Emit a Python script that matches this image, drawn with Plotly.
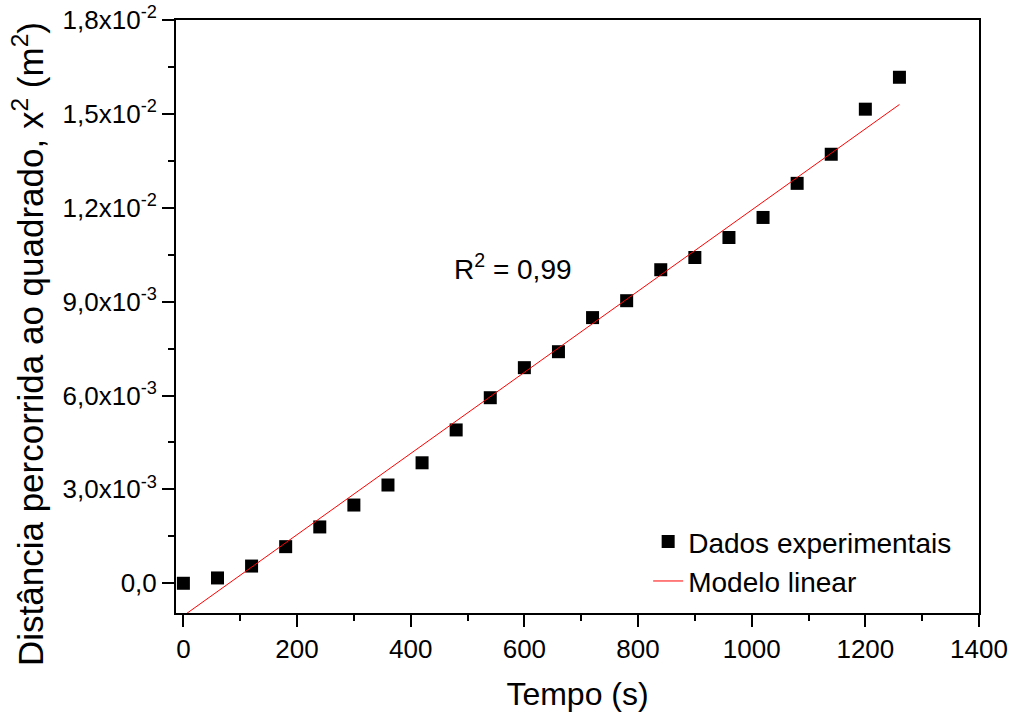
import plotly.graph_objects as go

tempo_s = [0, 60, 120, 180, 240, 300, 360, 420, 480, 540, 600, 660,
           720, 780, 840, 900, 960, 1020, 1080, 1140, 1200, 1260]
dist2_m2 = [0.0e-3, 0.17e-3, 0.55e-3, 1.17e-3, 1.80e-3, 2.50e-3, 3.14e-3, 3.85e-3,
            4.90e-3, 5.93e-3, 6.89e-3, 7.40e-3, 8.49e-3, 9.03e-3, 10.02e-3, 10.41e-3,
            11.05e-3, 11.69e-3, 12.78e-3, 13.71e-3, 15.15e-3, 16.17e-3]

fit_x = [0, 1260]
fit_y = [-1.04e-3, 15.30e-3]

y_tickvals = [0.0, 3e-3, 6e-3, 9e-3, 12e-3, 15e-3, 18e-3]
y_ticktext = ["0,0", "3,0x10<sup>-3</sup>", "6,0x10<sup>-3</sup>", "9,0x10<sup>-3</sup>",
              "1,2x10<sup>-2</sup>", "1,5x10<sup>-2</sup>", "1,8x10<sup>-2</sup>"]
x_tickvals = [0, 200, 400, 600, 800, 1000, 1200, 1400]

FONT = "Liberation Sans, Arial, sans-serif"

fig = go.Figure()
fig.add_trace(go.Scatter(
    x=tempo_s, y=dist2_m2, mode="markers", name="Dados experimentais",
    marker=dict(symbol="square", size=13, color="black", line=dict(width=0)),
    cliponaxis=False,
))
fig.add_trace(go.Scatter(
    x=fit_x, y=fit_y, mode="lines", name="Modelo linear",
    line=dict(color="red", width=1),
))

fig.add_annotation(x=580, y=10.12e-3, text="R<sup>2</sup> = 0,99", showarrow=False,
                   font=dict(family=FONT, size=28, color="black"))

# y-axis title placed as a rotated annotation
fig.add_annotation(x=-0.184, y=0.454, xref="paper", yref="paper",
                   text="Distância percorrida ao quadrado, x<sup>2</sup> (m<sup>2</sup>)",
                   textangle=-90, showarrow=False, xanchor="center", yanchor="middle",
                   font=dict(family=FONT, size=35, color="black"))

axis_common = dict(
    showline=True, linewidth=2, linecolor="black", mirror=True,
    ticks="outside", ticklen=12, tickwidth=2, tickcolor="black",
    showgrid=False, zeroline=False, automargin=False,
    tickfont=dict(family=FONT, size=26, color="black"),
)

fig.update_xaxes(
    range=[-13, 1400], tickmode="array", tickvals=x_tickvals,
    title=dict(text="Tempo (s)", font=dict(family=FONT, size=32, color="black"), standoff=19),
    minor=dict(dtick=100, tick0=0, ticklen=6, tickwidth=2, tickcolor="black", ticks="outside"),
    **axis_common,
)
fig.update_yaxes(
    range=[-0.95e-3, 18e-3], tickmode="array", tickvals=y_tickvals, ticktext=y_ticktext,
    minor=dict(dtick=1.5e-3, tick0=0, ticklen=6, tickwidth=2, tickcolor="black", ticks="outside"),
    **axis_common,
)

fig.update_layout(
    width=1011, height=715,
    margin=dict(l=176, r=32, t=20, b=102),
    plot_bgcolor="white", paper_bgcolor="white",
    font=dict(family=FONT, color="black"),
    legend=dict(x=0.588, y=0.012, xanchor="left", yanchor="bottom",
                bgcolor="rgba(0,0,0,0)", borderwidth=0,
                font=dict(family=FONT, size=28, color="black"),
                tracegroupgap=0),
    showlegend=True,
)

fig.write_html("out.html", config={"displayModeBar": False},
               post_script="document.body.style.margin='0';")
